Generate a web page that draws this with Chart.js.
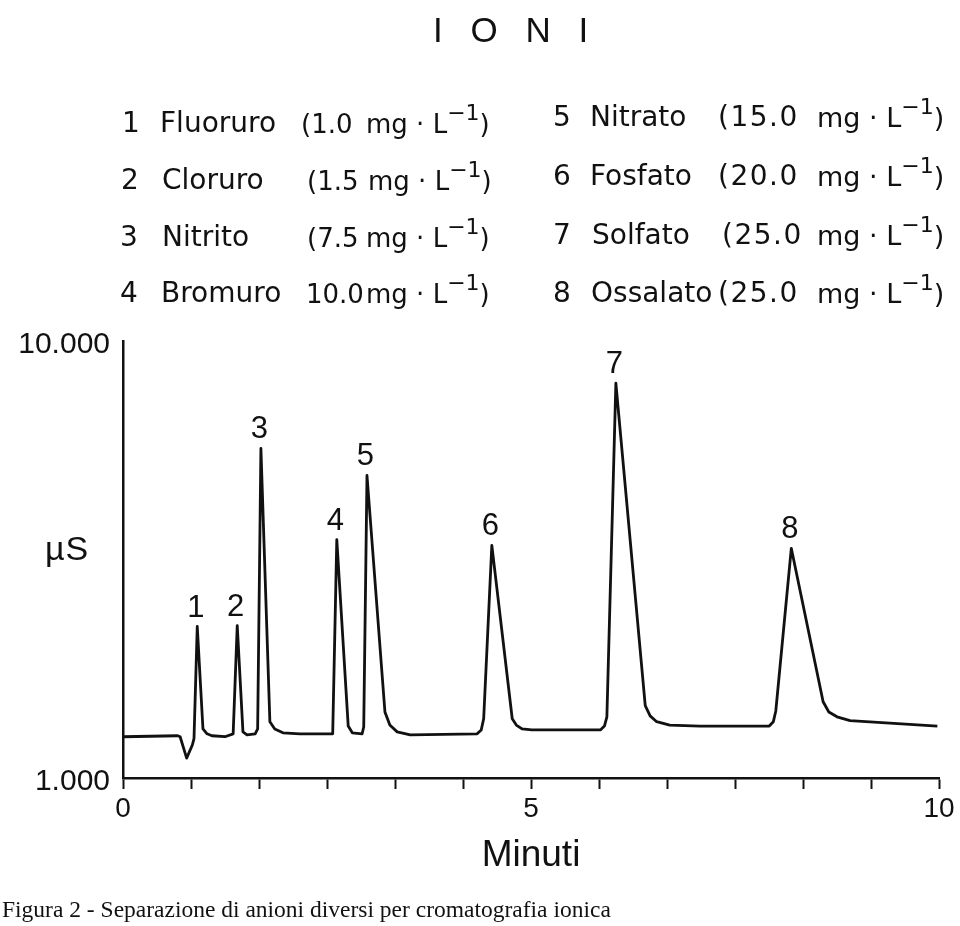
<!DOCTYPE html>
<html><head><meta charset="utf-8">
<script src="https://cdn.jsdelivr.net/npm/chart.js@4.4.0/dist/chart.umd.min.js"></script>
<style>
html,body{margin:0;padding:0;background:#fff;}
#wrap{position:relative;width:960px;height:926px;overflow:hidden;font-family:"Liberation Sans",Arial,sans-serif;color:#111;}
#c{position:absolute;left:0;top:0;}
.t{position:absolute;white-space:nowrap;font-family:"DejaVu Sans",sans-serif;font-size:28px;line-height:28px;}
.q{letter-spacing:1.5px;}
.ql{font-size:26px;}
.ml{font-size:26px;}
.mr{font-size:27px;}
.sup{position:relative;top:-13px;font-size:22px;letter-spacing:0;}
#title{position:absolute;left:433px;top:12px;font-size:35px;line-height:35px;letter-spacing:9px;white-space:pre;}
#mu{position:absolute;left:45px;top:531px;font-size:34px;line-height:34px;letter-spacing:1px;}
#cap{position:absolute;left:2px;top:898px;font-family:"Liberation Serif","Times New Roman",serif;font-size:23.5px;line-height:23.5px;white-space:nowrap;}
</style>
</head>
<body>
<div id="wrap">
<canvas id="c" width="960" height="926"></canvas>
<div id="title">I O N I</div>
<div class="t" style="left:122px;top:109px">1</div><div class="t" style="left:160px;top:109px">Fluoruro</div><div class="t ql" style="left:301px;top:110px">(1.0</div><div class="t ml" style="left:366px;top:110px">mg · L<span class="sup">−1</span>)</div>
<div class="t" style="left:121px;top:166px">2</div><div class="t" style="left:162px;top:166px">Cloruro</div><div class="t ql" style="left:307px;top:167px">(1.5</div><div class="t ml" style="left:368px;top:167px">mg · L<span class="sup">−1</span>)</div>
<div class="t" style="left:120px;top:223px">3</div><div class="t" style="left:162px;top:223px">Nitrito</div><div class="t ql" style="left:307px;top:224px">(7.5</div><div class="t ml" style="left:366px;top:224px">mg · L<span class="sup">−1</span>)</div>
<div class="t" style="left:120px;top:279px">4</div><div class="t" style="left:161px;top:279px">Bromuro</div><div class="t ql" style="left:306px;top:280px">10.0</div><div class="t ml" style="left:366px;top:280px">mg · L<span class="sup">−1</span>)</div>
<div class="t" style="left:553px;top:103px">5</div><div class="t" style="left:590px;top:103px">Nitrato</div><div class="t q" style="left:718px;top:103px">(15.0</div><div class="t mr" style="left:817px;top:104px">mg · L<span class="sup">−1</span>)</div>
<div class="t" style="left:553px;top:162px">6</div><div class="t" style="left:590px;top:162px">Fosfato</div><div class="t q" style="left:718px;top:162px">(20.0</div><div class="t mr" style="left:817px;top:163px">mg · L<span class="sup">−1</span>)</div>
<div class="t" style="left:553px;top:221px">7</div><div class="t" style="left:592px;top:221px">Solfato</div><div class="t q" style="left:722px;top:221px">(25.0</div><div class="t mr" style="left:817px;top:222px">mg · L<span class="sup">−1</span>)</div>
<div class="t" style="left:553px;top:279px">8</div><div class="t" style="left:591px;top:279px">Ossalato</div><div class="t q" style="left:718px;top:279px">(25.0</div><div class="t mr" style="left:817px;top:280px">mg · L<span class="sup">−1</span>)</div>
<div id="mu">µS</div>
<div id="cap">Figura 2 - Separazione di anioni diversi per cromatografia ionica</div>
</div>
<script>
// Chromatogram trace: time (minutes) and conductivity signal
const times  = [0, 0.67, 0.70, 0.78, 0.85, 0.87, 0.91, 0.98, 1.03, 1.09, 1.25, 1.35, 1.40, 1.47, 1.52, 1.62, 1.65, 1.69, 1.80, 1.86, 1.96, 2.17, 2.57, 2.62, 2.76, 2.81, 2.93, 2.95, 2.99, 3.21, 3.27, 3.36, 3.52, 4.34, 4.39, 4.42, 4.52, 4.77, 4.82, 4.89, 5.01, 5.85, 5.90, 5.93, 6.04, 6.40, 6.46, 6.54, 6.70, 7.07, 7.92, 7.97, 8.00, 8.19, 8.58, 8.65, 8.75, 8.91, 9.98];
const signal = [1.85, 1.87, 1.85, 1.41, 1.68, 1.81, 4.12, 2.01, 1.91, 1.87, 1.85, 1.91, 4.14, 1.95, 1.89, 1.91, 2.01, 7.79, 2.16, 2.01, 1.93, 1.91, 1.91, 5.91, 2.07, 1.93, 1.91, 2.05, 7.23, 2.36, 2.09, 1.95, 1.89, 1.91, 1.99, 2.22, 5.79, 2.22, 2.09, 2.01, 1.99, 1.99, 2.07, 2.26, 9.13, 2.49, 2.28, 2.16, 2.09, 2.07, 2.07, 2.16, 2.38, 5.73, 2.57, 2.36, 2.26, 2.18, 2.07];
const peakNumbers = ['1', '2', '3', '4', '5', '6', '7', '8'];
const peakTimes   = [0.91, 1.40, 1.69, 2.62, 2.99, 4.52, 6.04, 8.19];
const xTickValues = [0, 10/12, 20/12, 30/12, 40/12, 50/12, 5, 70/12, 80/12, 90/12, 100/12, 110/12, 10];
const xTickLabels = {0: '0', 5: '5', 10: '10'};
const yTickValues = [1, 10];
const yTickLabels = ['1.000', '10.000'];

const FONT = '"Liberation Sans", Arial, sans-serif';

const peakLabelPlugin = {
  id: 'peakLabels',
  afterDatasetsDraw(chart) {
    const {ctx, scales: {x, y}} = chart;
    ctx.save();
    ctx.font = '31px ' + FONT;
    ctx.fillStyle = '#111';
    ctx.textAlign = 'center';
    ctx.textBaseline = 'alphabetic';
    peakTimes.forEach((t, i) => {
      const idx = times.indexOf(t);
      const px = x.getPixelForValue(t) - 1.5;
      const py = y.getPixelForValue(signal[idx]);
      ctx.fillText(peakNumbers[i], px, py - 10);
    });
    ctx.restore();
  }
};

new Chart(document.getElementById('c'), {
  type: 'line',
  data: {
    datasets: [{
      data: times.map((t, i) => ({x: t, y: signal[i]})),
      borderColor: '#111',
      borderWidth: 2.8,
      pointRadius: 0,
      tension: 0,
      fill: false,
      borderJoinStyle: 'round'
    }]
  },
  options: {
    responsive: false,
    animation: false,
    devicePixelRatio: 1,
    layout: {padding: {left: 10, right: 21, top: 341, bottom: 48}},
    plugins: {legend: {display: false}, tooltip: {enabled: false}},
    scales: {
      x: {
        type: 'linear', min: 0, max: 10,
        afterBuildTicks(s) { s.ticks = xTickValues.map(v => ({value: v})); },
        afterFit(s) { s.height = 100; },
        ticks: {
          autoSkip: false, maxRotation: 0, padding: 3, color: '#111',
          font: {family: FONT, size: 28},
          callback(v) {
            const r = Math.round(v * 1000) / 1000;
            return xTickLabels[r] !== undefined ? xTickLabels[r] : '';
          }
        },
        grid: {drawOnChartArea: false, drawTicks: true, tickLength: 11, tickWidth: 2, tickColor: '#111'},
        border: {display: true, color: '#111', width: 2.5},
        title: {display: true, text: 'Minuti', color: '#111', font: {family: FONT, size: 37}, padding: {top: 0, bottom: 0}}
      },
      y: {
        type: 'linear', min: 1, max: 10,
        afterBuildTicks(s) { s.ticks = yTickValues.map(v => ({value: v})); },
        afterFit(s) { s.width = 113; },
        ticks: {
          padding: 13, labelOffset: 4, color: '#111', font: {family: FONT, size: 30},
          callback(v) { const i = yTickValues.indexOf(v); return i >= 0 ? yTickLabels[i] : ''; }
        },
        grid: {drawOnChartArea: false, drawTicks: false},
        border: {display: true, color: '#111', width: 2.5}
      }
    }
  },
  plugins: [peakLabelPlugin]
});
</script>
</body></html>
